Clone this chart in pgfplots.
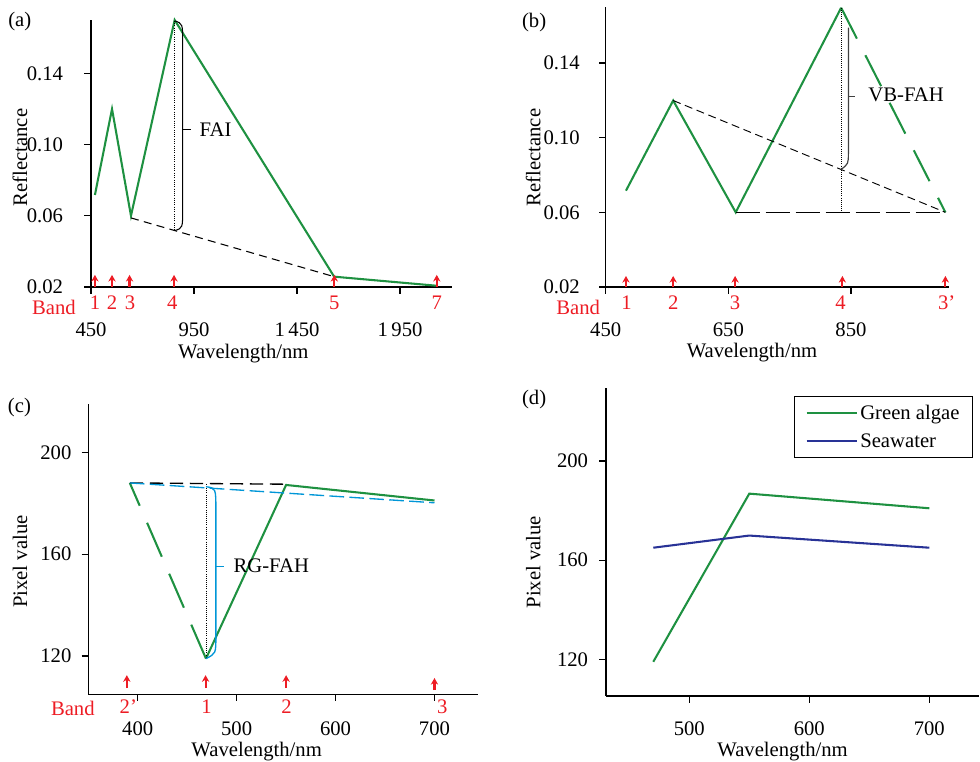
\documentclass[border=0pt]{standalone}
\usepackage{fontspec}
\setmainfont{Liberation Serif}
\usepackage{pgfplots}
\pgfplotsset{compat=1.18}
\usetikzlibrary{arrows.meta}
\newcommand\fs{\fontsize{15.5pt}{18pt}\selectfont}
\definecolor{galgae}{RGB}{30,145,65}
\definecolor{bandred}{RGB}{237,28,36}
\definecolor{lblue}{RGB}{0,150,215}
\definecolor{dblue}{RGB}{40,50,150}
\pgfplotsset{
 base/.style={scale only axis, anchor=south west, axis lines=left,
   axis line style={-, line width=0.9pt, black},
   tick align=outside, major tick length=5pt, tick style={black, line width=0.9pt},
   clip=false, /pgf/number format/assume math mode=true,
   tick label style={font=\fs}, label style={font=\fs},
   xticklabel style={anchor=base, inner sep=0pt},
   yticklabel style={anchor=east, inner sep=0pt},
   ylabel style={anchor=center}, xlabel style={anchor=base}},
 gline/.style={galgae, line width=1.55pt},
 arrowplot/.style={bandred, line width=1.6pt, -{Stealth[length=5pt,width=5.5pt]}, quiver={u=0,v=\thisrow{v}}},
}
\tikzset{band/.style={text=bandred, anchor=base, font=\fs, inner sep=0pt}}
\begin{document}
\begin{tikzpicture}
\useasboundingbox (0,0) rectangle (735pt,571.5pt);
% ---------------- (a)
\begin{axis}[base, at={(68.25pt,356.25pt)}, width=270.75pt, height=200.25pt,
  xmin=450, xmax=2202, ymin=0.02, ymax=0.17,
  xtick={450,950,1450,1950}, xticklabels={450,950,1\,450,1\,950},
  ytick={0.02,0.06,0.10,0.14}, yticklabels={0.02,0.06,0.10,0.14},
  xticklabel style={yshift=-32.2pt}, yticklabel style={xshift=-15.75pt},
  xlabel={Wavelength/nm}, ylabel={Reflectance},
  xlabel style={at={(axis description cs:0.422,0)}, yshift=-53.5pt},
  ylabel style={at={(axis description cs:-0.197,0.485)}}]
\addplot[gline] coordinates {(469,0.0717)(552,0.120)(644,0.060)(856,0.170)(1630,0.0258)(2128,0.0207)};
\addplot[black, line width=0.8pt, dash pattern=on 6pt off 4pt] coordinates {(644,0.0588)(1630,0.0258)};
\addplot[black, line width=0.7pt, densely dotted] coordinates {(856,0.1695)(856,0.0517)};
\addplot[arrowplot] table {
x y v
469 0.0200 0.0068
552 0.0200 0.0068
637 0.0200 0.0068
853 0.0200 0.0068
1631 0.0200 0.0068
2128 0.0200 0.0068
};
\draw[black, line width=0.8pt] (axis cs:856,0.1695) .. controls (axis cs:895,0.1680) .. (axis cs:895,0.157) -- (axis cs:895,0.064) .. controls (axis cs:895,0.0530) .. (axis cs:856,0.0517);
\draw[black, line width=0.8pt] (axis cs:895,0.1085) -- (axis cs:934,0.1085);
\node[anchor=west, inner sep=0pt, font=\fs] at (axis cs:976,0.1085) {FAI};
\node[band, yshift=-20.5pt] at (axis cs:270,0.02) {Band};
\node[band, yshift=-17.2pt] at (axis cs:469,0.02) {1};
\node[band, yshift=-17.2pt] at (axis cs:552,0.02) {2};
\node[band, yshift=-17.2pt] at (axis cs:639,0.02) {3};
\node[band, yshift=-17.2pt] at (axis cs:844,0.02) {4};
\node[band, yshift=-17.2pt] at (axis cs:1631,0.02) {5};
\node[band, yshift=-17.2pt] at (axis cs:2128,0.02) {7};
\end{axis}
% ---------------- (b)
\begin{axis}[base, at={(454.3pt,356.25pt)}, width=257.5pt, height=210pt,
  xmin=450, xmax=1010, ymin=0.02, ymax=0.17,
  xtick={450,650,850},
  ytick={0.02,0.06,0.10,0.14}, yticklabels={0.02,0.06,0.10,0.14},
  xticklabel style={yshift=-32.2pt}, yticklabel style={xshift=-14.25pt},
  xlabel={Wavelength/nm}, ylabel={Reflectance},
  xlabel style={at={(axis description cs:0.426,0)}, yshift=-53.25pt},
  ylabel style={at={(axis description cs:-0.211,0.4625)}}]
\addplot[gline] coordinates {(483,0.0716)(560,0.1199)(662,0.060)(834,0.1696)};
\addplot[gline, dash pattern=on 26pt off 14pt] coordinates {(834,0.1696)(1004,0.060)};
\addplot[black, line width=0.7pt, dash pattern=on 6pt off 3.5pt] coordinates {(560,0.1199)(1004,0.060)};
\addplot[black, line width=0.8pt, dash pattern=on 18pt off 4.5pt] coordinates {(662,0.060)(1004,0.060)};
\addplot[black, line width=0.6pt, densely dotted] coordinates {(834,0.1696)(834,0.060)};
\addplot[arrowplot] table {
x y v
483 0.0200 0.0059
560 0.0200 0.0059
661 0.0200 0.0059
836 0.0200 0.0059
1004 0.0200 0.0059
};
\draw[black!75, line width=0.9pt] (axis cs:845.8,0.159) -- (axis cs:845.8,0.0919) .. controls (axis cs:845.8,0.0860) .. (axis cs:834,0.083);
\draw[black!75, line width=0.8pt] (axis cs:845.8,0.122) -- (axis cs:856.7,0.122);
\node[anchor=west, inner sep=0pt, font=\fs] at (axis cs:878,0.1229) {VB-FAH};
\node[band, yshift=-20.5pt] at (axis cs:405,0.02) {Band};
\node[band, yshift=-17pt] at (axis cs:484,0.02) {1};
\node[band, yshift=-17pt] at (axis cs:560,0.02) {2};
\node[band, yshift=-17pt] at (axis cs:661,0.02) {3};
\node[band, yshift=-17pt] at (axis cs:833,0.02) {4};
\node[band, yshift=-17pt] at (axis cs:1006,0.02) {3'};
\end{axis}
% ---------------- (c)
\begin{axis}[base, at={(66.2pt,50.8pt)}, width=292.3pt, height=217.7pt,
  xmin=350, xmax=744, ymin=105, ymax=219,
  xtick={400,500,600,700}, ytick={120,160,200},
  xticklabel style={yshift=-26.2pt}, yticklabel style={xshift=-7.5pt},
  xlabel={Wavelength/nm}, ylabel={Pixel value},
  xlabel style={at={(axis description cs:0.432,0)}, yshift=-46.5pt},
  ylabel style={at={(axis description cs:-0.175,0.457)}}]
\addplot[gline] coordinates {(469,119)(550,187.2)(700,181.1)};
\addplot[gline, dash pattern=on 27.75pt off 13.9pt] coordinates {(469,119)(392,188)};
\addplot[black, line width=1pt, dash pattern=on 10pt off 5pt] coordinates {(392,188)(550,187.5)};
\addplot[lblue, line width=1pt, dash pattern=on 11pt off 4pt] coordinates {(392,188)(700,180.2)};
\addplot[black, line width=0.6pt, densely dotted] coordinates {(469,187.6)(469,119)};
\addplot[arrowplot] table {
x y v
389 107.4 5.1
468.6 107.4 5.1
550 107.4 5.1
700 106.6 4.8
};
\draw[lblue, line width=1pt] (axis cs:469,186.5) .. controls (axis cs:479,186) .. (axis cs:479,177.2) -- (axis cs:479,127.6) .. controls (axis cs:479,121) .. (axis cs:469,119);
\draw[lblue, line width=0.8pt] (axis cs:479,155) -- (axis cs:487,155);
\node[anchor=west, inner sep=0pt, font=\fs] at (axis cs:496.6,155.6) {RG-FAH};
\node[band, yshift=-15.6pt] at (axis cs:334.4,105) {Band};
\node[band, yshift=-14.8pt] at (axis cs:390.5,105) {2'};
\node[band, yshift=-14.8pt] at (axis cs:469.6,105) {1};
\node[band, yshift=-14.8pt] at (axis cs:550.4,105) {2};
\node[band, yshift=-14.8pt] at (axis cs:708,105) {3};
\end{axis}
% ---------------- (d)
\begin{axis}[base, at={(454.5pt,49.5pt)}, width=280pt, height=230.8pt,
  xmin=430.6, xmax=741.7, ymin=105.2, ymax=229.3,
  xtick={500,600,700}, ytick={120,160,200},
  xticklabel style={yshift=-24.8pt}, yticklabel style={xshift=-8.25pt},
  xlabel={Wavelength/nm}, ylabel={Pixel value},
  xlabel style={at={(axis description cs:0.473,0)}, yshift=-45.2pt},
  ylabel style={at={(axis description cs:-0.195,0.435)}},
  legend style={at={(axis description cs:0.984,0.975)}, anchor=north east, draw=black, line width=0.7pt, font=\fs, inner xsep=8pt, inner ysep=4.5pt, row sep=5pt},
  legend cell align=left,
  legend image code/.code={\draw[#1] (0pt,0pt) -- (37.5pt,0pt);}]
\addplot[gline] coordinates {(470,119)(550,186.8)(700,180.9)};
\addlegendentry{Green algae}
\addplot[dblue, line width=1.55pt] coordinates {(470,165)(550,169.9)(700,165)};
\addlegendentry{Seawater}
\end{axis}
\node[font=\fs] at (14.8pt,555pt) {(a)};
\node[font=\fs] at (400.6pt,554.6pt) {(b)};
\node[font=\fs] at (14.6pt,265.9pt) {(c)};
\node[font=\fs] at (400.6pt,272.1pt) {(d)};
\end{tikzpicture}
\end{document}
